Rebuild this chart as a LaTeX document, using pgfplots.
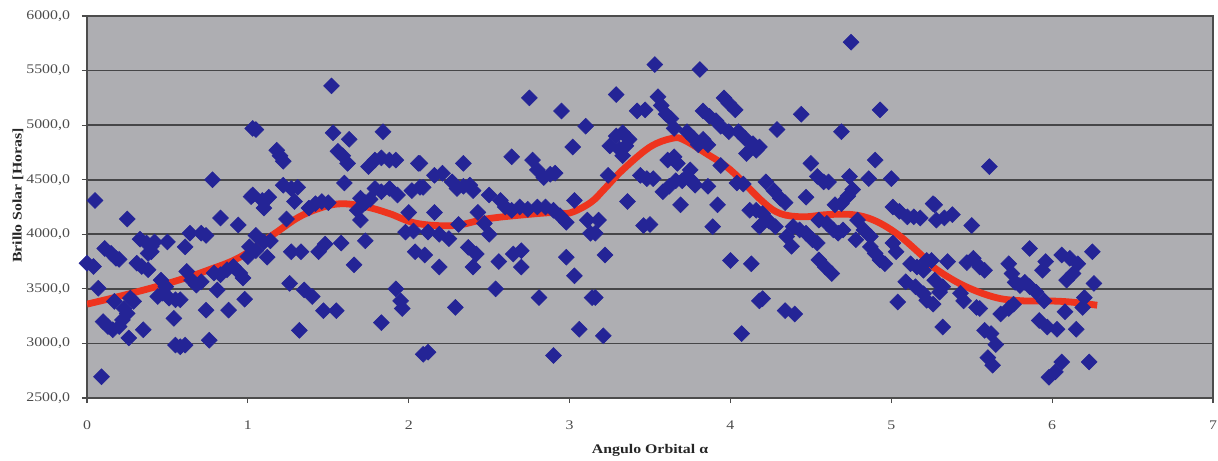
\documentclass[border=0pt]{standalone}
\usepackage{fontspec}
\setmainfont[FakeStretch=1.2]{Liberation Serif}
\usepackage{pgfplots}
\pgfplotsset{compat=1.18}
\definecolor{plotbg}{RGB}{174,174,178}
\definecolor{dotblue}{RGB}{36,36,150}
\definecolor{fitred}{RGB}{238,52,30}
\definecolor{gridc}{RGB}{70,70,72}

\begin{document}
\begin{tikzpicture}
\useasboundingbox (-43.5pt,-31pt) rectangle (565.5pt,199pt);
\begin{axis}[
    scale only axis,
    width=563pt, height=191pt,
    xmin=0, xmax=7,
    ymin=2500, ymax=6000,
    xtick={0,1,...,7},
    ytick={2500,3000,...,6000},
    tick pos=left,
    tick align=outside,
    major tick length=2.5pt,
    tick style={black!70, line width=0.6pt},
    ymajorgrids=true,
    grid style={gridc, line width=0.8pt},
    axis line style={black!70, line width=1.1pt},
    axis background/.style={fill=plotbg},
    /pgf/number format/assume math mode=true,
    ticklabel style={font=\fontsize{6.6}{7.5}\selectfont, text=black!70},
    yticklabel style={/pgf/number format/fixed, /pgf/number format/fixed zerofill,
        /pgf/number format/precision=1, /pgf/number format/use comma,
        /pgf/number format/1000 sep={}, anchor=east, xshift=-2.5pt},
    xticklabel style={anchor=center, yshift=-11pt},
    xlabel={Angulo Orbital α},
    ylabel={Brillo Solar [Horas]},
    label style={font=\fontsize{6.6}{7.5}\selectfont\bfseries, text=black!85},
    xlabel style={at={(axis description cs:0.5,0)}, anchor=center, yshift=-26pt},
    ylabel style={at={(axis description cs:-0.0613,0.53)}, anchor=center},
]

% ajuste
\addplot[fitred, line width=3.4pt, smooth, tension=0.6] coordinates {
(0,3360) (0.17,3420) (0.38,3500) (0.57,3580) (0.75,3670) (0.95,3790)
(1.16,4000) (1.32,4160) (1.47,4250) (1.59,4280) (1.74,4250) (1.88,4190)
(2.05,4100) (2.28,4080) (2.48,4140) (2.69,4175) (2.9,4200) (3.0,4195)
(3.13,4290) (3.22,4420) (3.33,4590) (3.5,4800) (3.64,4880) (3.71,4865)
(3.85,4740) (4.0,4590) (4.2,4300) (4.31,4190) (4.45,4160) (4.6,4180)
(4.76,4180) (4.89,4130) (5.03,4010) (5.18,3820) (5.27,3690) (5.45,3530)
(5.65,3420) (5.82,3390) (5.96,3390) (6.11,3380) (6.28,3350)
};

% datos
\addplot[only marks, mark=square*, mark size=2.8pt,
    mark options={rotate=45, fill=dotblue, draw=dotblue, line width=0.3pt}] coordinates {
(0.05,4310) (0.25,4140) (0.78,4500) (1.03,4970) (1.02,4345) (0.83,4150) (0.94,4085)
(0.33,3955) (0.37,3920) (0.40,3890) (0.42,3930) (0.50,3930) (0.61,3885) (0.64,4010) (0.71,4010) (0.74,3990)
(0.11,3870) (0.15,3825) (0.18,3780) (0.20,3770)
(0.00,3735) (0.04,3705)
(0.31,3735) (0.34,3705) (0.38,3675) (0.38,3825) (0.40,3840)
(0.62,3660) (0.65,3580) (0.68,3535) (0.71,3565)
(0.46,3580) (0.49,3520)
(0.79,3645) (0.83,3630) (0.87,3675) (0.91,3705) (0.95,3645) (0.97,3600) (1.00,3795) (1.01,3885)
(0.07,3505) (0.81,3490) (0.17,3385) (0.27,3415) (0.29,3385)
(0.44,3430) (0.47,3460) (0.51,3415) (0.55,3400) (0.58,3400) (0.98,3405)
(0.23,3320) (0.25,3275) (0.22,3215) (0.74,3305) (0.88,3305) (0.54,3230)
(0.10,3200) (0.13,3155) (0.16,3125) (0.20,3155) (0.35,3125) (0.26,3050)
(0.55,2985) (0.58,2970) (0.61,2985) (0.76,3030) (0.09,2695)
(1.52,5360) (1.05,4960) (1.53,4930) (1.63,4870) (1.84,4940)
(1.18,4770) (1.20,4720) (1.22,4670)
(1.56,4760) (1.59,4720) (1.62,4650)
(1.75,4620) (1.79,4680) (1.83,4700) (1.88,4680) (1.92,4680) (2.06,4650)
(1.60,4470) (1.22,4450) (1.27,4420) (1.31,4430)
(1.03,4360) (1.09,4310) (1.13,4340) (1.10,4240)
(1.29,4300) (1.38,4240) (1.42,4280) (1.46,4300) (1.50,4290)
(1.70,4330) (1.73,4290) (1.76,4320)
(1.79,4420) (1.83,4390) (1.88,4420) (1.93,4360) (2.02,4400) (2.07,4430)
(1.68,4220) (1.70,4130) (2.00,4200) (1.24,4140)
(1.98,4020) (2.03,4030)
(1.05,3990) (1.10,3930) (1.14,3940) (1.05,3850) (1.12,3790)
(1.27,3840) (1.33,3840) (1.44,3840) (1.48,3910) (1.58,3920) (1.73,3940) (2.04,3840)
(1.66,3720) (1.26,3550) (1.35,3490) (1.40,3430) (1.47,3300) (1.55,3300)
(1.92,3500) (1.95,3390) (1.96,3320) (1.83,3190) (1.32,3120) (2.09,2900)
(2.75,5250) (2.95,5130) (3.10,4990) (3.02,4800) (2.64,4710)
(2.77,4680) (2.80,4590) (2.84,4520) (2.88,4550) (2.91,4560)
(2.07,4650) (2.34,4650)
(2.16,4540) (2.21,4560) (2.27,4480) (2.30,4420) (2.34,4440) (2.38,4450) (2.40,4400)
(2.09,4430)
(2.50,4360) (2.57,4310) (2.60,4250) (2.64,4220) (2.69,4250) (2.74,4230) (2.80,4250) (2.85,4250) (2.90,4220) (2.94,4170) (2.98,4110)
(3.03,4310) (2.16,4200)
(2.12,4020) (2.19,4000) (2.25,3960) (2.31,4090)
(2.43,4200) (2.47,4100) (2.50,4000)
(3.11,4130) (3.13,4010)
(2.10,3810) (2.37,3880) (2.42,3820) (2.19,3700) (2.40,3700) (2.56,3750) (2.65,3820) (2.70,3850) (2.70,3700)
(2.98,3790) (3.03,3620) (2.54,3500) (2.81,3420) (3.14,3420) (2.29,3330) (3.06,3130) (2.12,2920) (2.90,2890)
(3.53,5555) (3.81,5510) (3.29,5280)
(3.55,5260) (3.57,5180) (3.60,5100) (3.63,5060) (3.65,4970)
(3.42,5130) (3.47,5140)
(3.96,5250) (3.99,5200) (4.03,5140)
(3.83,5130) (3.87,5080) (3.91,5040) (3.94,4990) (3.99,4940)
(4.05,4940) (4.09,4880) (4.14,4830) (4.16,4770) (4.10,4740)
(3.29,4900) (3.33,4930) (3.37,4870) (3.25,4810) (3.31,4780) (3.35,4810) (3.33,4720)
(3.73,4940) (3.77,4880) (3.80,4820) (3.83,4870) (3.86,4820)
(3.61,4680) (3.65,4710) (3.67,4650)
(3.94,4630) (3.75,4590) (3.73,4530) (3.70,4490) (3.66,4490) (3.62,4440) (3.58,4390) (3.76,4490) (3.78,4450)
(3.24,4540) (3.44,4540) (3.48,4510) (3.52,4510)
(3.86,4440) (4.04,4470) (4.08,4460)
(3.36,4300) (3.69,4270) (3.92,4270) (4.12,4220) (4.16,4220)
(3.18,4130) (3.16,4010) (3.46,4080) (3.50,4090) (3.89,4070) (4.18,4070)
(3.22,3810) (4.00,3760) (4.13,3730) (4.18,3390) (3.16,3420) (3.21,3070) (4.07,3090)
(4.75,5760) (4.44,5100) (4.93,5140) (4.29,4960) (4.69,4940) (4.18,4800)
(4.50,4650) (4.54,4530) (4.58,4480) (4.61,4480)
(4.90,4680) (4.86,4510) (5.00,4510)
(4.74,4530) (4.76,4410) (4.73,4350) (4.69,4280) (4.65,4270)
(4.47,4340) (4.22,4480) (4.27,4400) (4.31,4330) (4.34,4290)
(5.01,4250) (5.05,4210) (5.10,4160) (5.14,4160) (5.18,4150) (5.26,4280)
(4.20,4190) (4.24,4120) (4.28,4070)
(4.39,4070) (4.43,4040) (4.47,4010) (4.51,3950) (4.54,3920)
(4.35,3980) (4.38,3890)
(4.55,4130) (4.60,4100) (4.64,4040) (4.67,4010) (4.70,4040)
(4.79,4130) (4.83,4040) (4.87,3980)
(4.78,3950) (4.87,3885) (4.90,3825) (4.93,3765) (4.96,3730)
(5.01,3920) (5.03,3840)
(4.55,3765) (4.59,3700) (4.63,3640)
(5.12,3730) (5.16,3700) (5.20,3670) (5.22,3760)
(5.09,3565) (5.15,3520) (5.20,3455) (5.22,3395)
(5.04,3380) (4.20,3410) (4.34,3300) (4.40,3270)
(5.61,4620)
(5.27,4270) (5.28,4130) (5.33,4150) (5.38,4180) (5.50,4080)
(5.86,3870) (6.25,3840)
(5.35,3750) (5.25,3760)
(5.47,3740) (5.51,3780) (5.55,3700) (5.58,3670)
(5.73,3730) (5.75,3640) (5.77,3560) (5.80,3530) (5.83,3560)
(5.96,3750) (5.94,3670)
(6.06,3810) (6.11,3780) (6.16,3730) (6.13,3640) (6.09,3580)
(6.26,3550)
(5.27,3580) (5.32,3520) (5.30,3470)
(5.43,3460) (5.45,3390)
(5.53,3330) (5.55,3320)
(5.68,3270) (5.73,3320) (5.76,3360)
(5.86,3520) (5.90,3470) (5.95,3390)
(6.20,3420) (6.19,3330) (6.08,3290) (5.26,3360) (5.32,3150)
(5.92,3210) (5.97,3150) (6.03,3130) (6.15,3130)
(5.58,3120) (5.62,3090) (5.65,2990)
(5.60,2870) (5.63,2800)
(6.06,2830) (6.02,2740) (5.98,2690)
(6.23,2830)
};
\end{axis}
\end{tikzpicture}
\end{document}
